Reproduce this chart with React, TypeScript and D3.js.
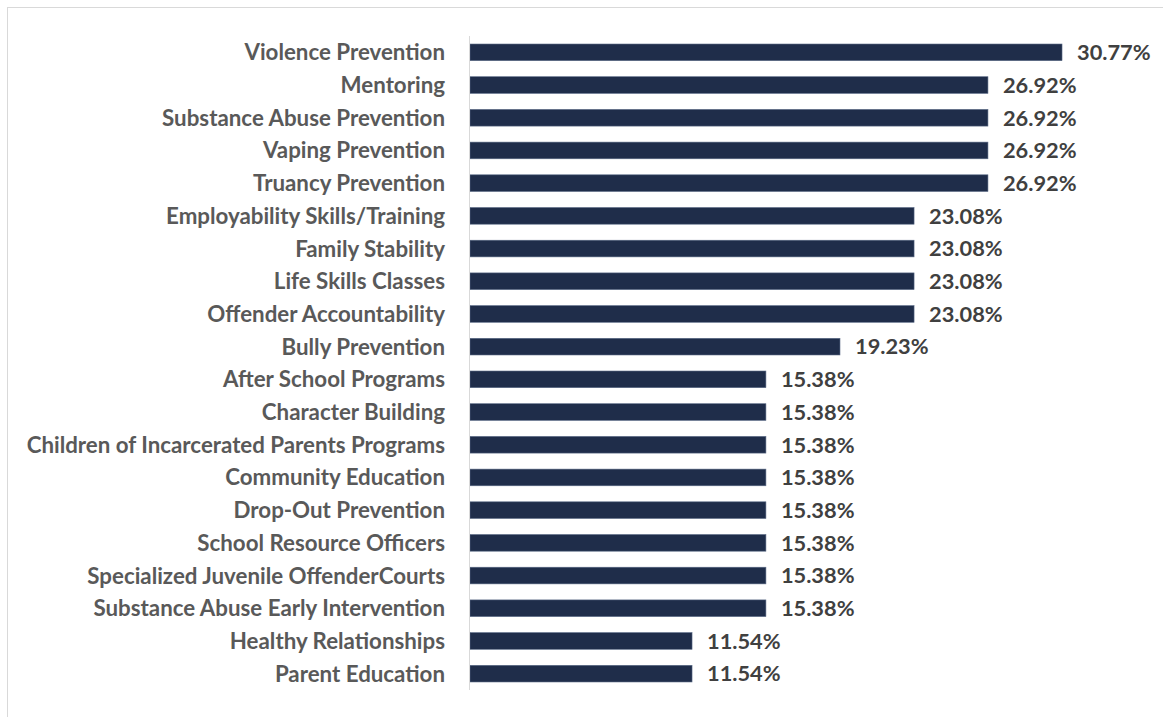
import React from "react";
import * as d3 from "d3";

const categories = [
  "Violence Prevention",
  "Mentoring",
  "Substance Abuse Prevention",
  "Vaping Prevention",
  "Truancy Prevention",
  "Employability Skills/Training",
  "Family Stability",
  "Life Skills Classes",
  "Offender Accountability",
  "Bully Prevention",
  "After School Programs",
  "Character Building",
  "Children of Incarcerated Parents Programs",
  "Community Education",
  "Drop-Out Prevention",
  "School Resource Officers",
  "Specialized Juvenile OffenderCourts",
  "Substance Abuse Early Intervention",
  "Healthy Relationships",
  "Parent Education",
];

const values = [
  30.77, 26.92, 26.92, 26.92, 26.92, 23.08, 23.08, 23.08, 23.08, 19.23, 15.38,
  15.38, 15.38, 15.38, 15.38, 15.38, 15.38, 15.38, 11.54, 11.54,
];

const W = 1163;
const H = 717;
const FONT = "Lato, 'Open Sans', sans-serif";

export default function App() {
  const x = d3.scaleLinear().domain([0, 35]).range([470, 470 + 35 * 19.24]);
  const y = d3.scaleBand<string>().domain(categories).range([36, 690]).paddingInner(0.49).paddingOuter(0.245);
  return (
    <svg width={W} height={H} style={{ position: "absolute", left: 0, top: 0, background: "#fff" }}>
      <rect x={7.5} y={7.5} width={W + 10} height={H + 10} fill="#fff" stroke="#d9d9d9" strokeWidth={1} />
      {categories.map((c, i) => {
        const yy = y(c)!;
        const bh = y.bandwidth();
        return (
          <g key={c}>
            <rect x={x(0)} y={yy} width={x(values[i]) - x(0)} height={bh} fill="#1f2d4a" stroke="#5a6a86" strokeWidth={0.6} />
            <text x={445} y={yy + bh / 2} dy="0.36em" textAnchor="end" fontFamily={FONT} fontWeight={700} fontSize={22.3} fill="#595959">
              {c}
            </text>
            <text x={x(values[i]) + 15} y={yy + bh / 2} dy="0.36em" textAnchor="start" fontFamily={FONT} fontWeight={700} fontSize={21.8} fill="#404040">
              {values[i].toFixed(2) + "%"}
            </text>
          </g>
        );
      })}
      <line x1={469.5} x2={469.5} y1={36} y2={690} stroke="#d9d9d9" strokeWidth={1} />
    </svg>
  );
}
